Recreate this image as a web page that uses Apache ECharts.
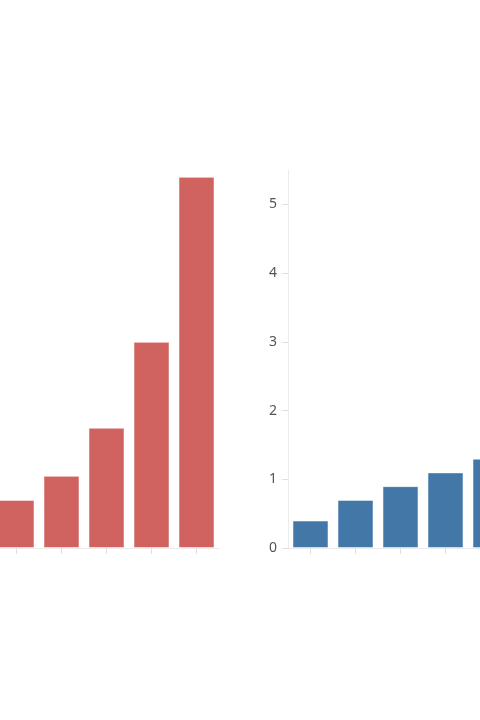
<!DOCTYPE html>
<html>
<head>
<meta charset="utf-8">
<script src="https://cdn.jsdelivr.net/npm/echarts@6/dist/echarts.min.js"></script>
<style>
html,body{margin:0;padding:0;background:#fff;overflow:hidden;}
#chart{width:480px;height:720px;}
</style>
</head>
<body>
<div id="chart"></div>
<script>
var leftCategories = ['a1', 'a2', 'a3', 'a4', 'a5'];
var leftValues = [0.7, 1.05, 1.75, 3.0, 5.4];
var rightCategories = ['b1', 'b2', 'b3', 'b4', 'b5'];
var rightValues = [0.4, 0.7, 0.9, 1.1, 1.3];
var yTicks = [0, 1, 2, 3, 4, 5];
var yMax = 5.5;

var chart = echarts.init(document.getElementById('chart'), null, {renderer: 'canvas'});

function xAxis(gridIndex, cats) {
  return {
    type: 'category',
    gridIndex: gridIndex,
    data: cats,
    axisLine: {show: true, lineStyle: {color: '#ececec', width: 1}},
    axisTick: {show: true, alignWithLabel: true, length: 6, lineStyle: {color: '#e0e0e0'}},
    axisLabel: {show: false}
  };
}
function yAxis(gridIndex) {
  return {
    type: 'value',
    gridIndex: gridIndex,
    min: 0,
    max: yMax,
    interval: 1,
    splitLine: {show: false},
    axisLine: {show: true, lineStyle: {color: '#ececec', width: 1}},
    axisTick: {show: true, length: 6, customValues: yTicks, lineStyle: {color: '#e0e0e0'}},
    axisLabel: {
      customValues: yTicks,
      margin: 11,
      color: '#555',
      fontSize: 14,
      fontFamily: 'Noto Sans'
    }
  };
}

chart.setOption({
  animation: false,
  grid: [
    {left: -6, top: 170, width: 225, bottom: 172, outerBoundsMode: 'none', containLabel: false},
    {left: 288, top: 170, width: 225, bottom: 172, outerBoundsMode: 'none', containLabel: false}
  ],
  xAxis: [xAxis(0, leftCategories), xAxis(1, rightCategories)],
  yAxis: [yAxis(0), yAxis(1)],
  series: [
    {
      type: 'bar', xAxisIndex: 0, yAxisIndex: 0, data: leftValues,
      barWidth: 36,
      itemStyle: {color: '#d06360', borderColor: 'rgba(255,255,255,0.5)', borderWidth: 1}
    },
    {
      type: 'bar', xAxisIndex: 1, yAxisIndex: 1, data: rightValues,
      barWidth: 36,
      itemStyle: {color: '#4377a8', borderColor: 'rgba(255,255,255,0.5)', borderWidth: 1}
    }
  ]
});
</script>
</body>
</html>
